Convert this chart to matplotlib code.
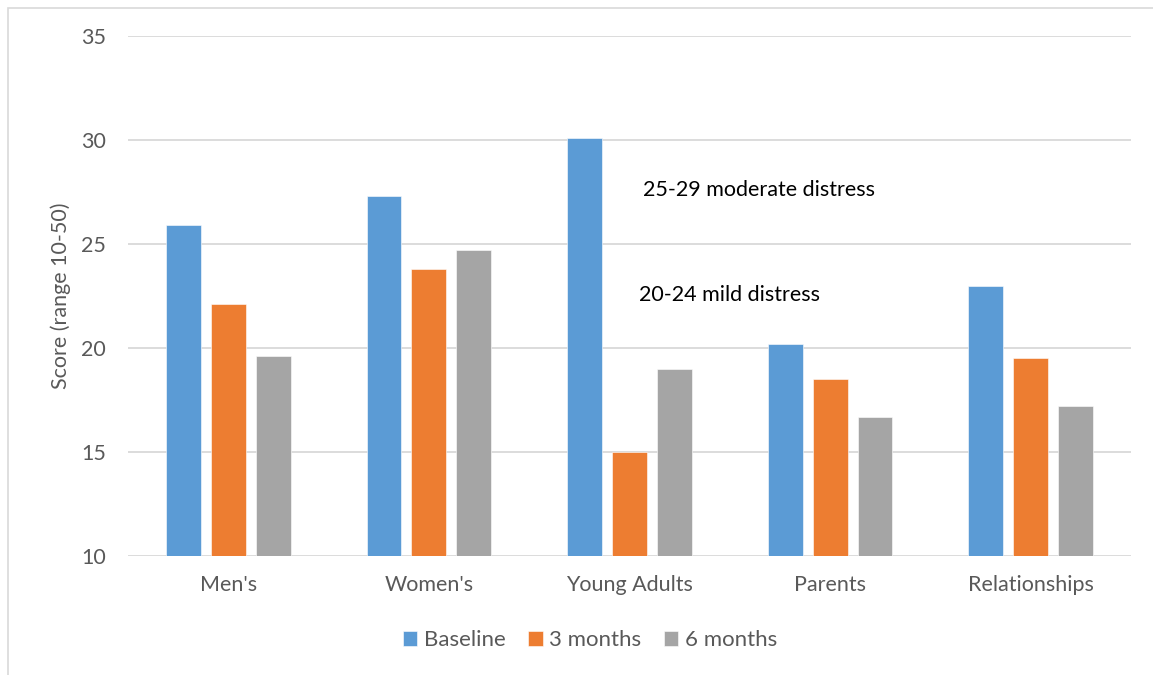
import matplotlib
matplotlib.use("Agg")
import matplotlib.pyplot as plt
from matplotlib.patches import Rectangle
import numpy as np

categories = ["Men's", "Women's", "Young Adults", "Parents", "Relationships"]
series_names = ["Baseline", "3 months", "6 months"]
baseline = [25.9, 27.3, 30.1, 20.2, 23.0]
three_months = [22.1, 23.8, 15.0, 18.5, 19.5]
six_months = [19.6, 24.7, 19.0, 16.7, 17.2]
colors = ["#5B9BD5", "#ED7D31", "#A5A5A5"]
y_ticks = [10, 15, 20, 25, 30, 35]

plt.rcParams["font.family"] = ["Lato", "DejaVu Sans"]

W, H = 1153, 675
fig = plt.figure(figsize=(W / 100, H / 100), dpi=100)

# outer chart border
fig.patches.append(Rectangle((8 / W, -0.01), 1.02, 1 - 8 / H + 0.01,
                             transform=fig.transFigure, fill=False,
                             edgecolor="#D9D9D9", linewidth=1.2))

ax = fig.add_axes([128 / W, 1 - 556 / H, (1131 - 128) / W, (556 - 36) / H])

x = np.arange(len(categories))
width = 0.174
offset = 0.224
for i, (vals, name) in enumerate(zip([baseline, three_months, six_months], series_names)):
    ax.bar(x + (i - 1) * offset, np.array(vals) - 10, bottom=10, width=width,
           color=colors[i], label=name, zorder=3,
           edgecolor="white", linewidth=0.4)

ax.set_xlim(-0.5, len(categories) - 0.5)
ax.set_ylim(10, 35)
ax.set_yticks(y_ticks)
ax.set_yticklabels([str(t) for t in y_ticks])
ax.set_xticks(x)
ax.set_xticklabels(categories)
ax.grid(axis="y", color="#D9D9D9", linewidth=1.3, zorder=0)
for s in ax.spines.values():
    s.set_visible(False)
ax.tick_params(axis="both", length=0, labelsize=15.5, colors="#595959")
ax.tick_params(axis="y", pad=16)
ax.tick_params(axis="x", pad=14)
ax.set_ylabel("Score (range 10-50)", fontsize=15.5, color="#595959", labelpad=7)

ax.text(2.067, 27.6, "25-29 moderate distress", fontsize=15.5, color="black",
        va="center", ha="left")
ax.text(2.047, 22.55, "20-24 mild distress", fontsize=15.5, color="black",
        va="center", ha="left")

leg = fig.legend(loc="center", bbox_to_anchor=(590 / W, 1 - 640 / H), ncol=3,
                 frameon=False, fontsize=16, handlelength=0.65, handleheight=0.65,
                 handletextpad=0.3, columnspacing=1.0, labelcolor="#595959")

fig.savefig("out.png", dpi=100)
